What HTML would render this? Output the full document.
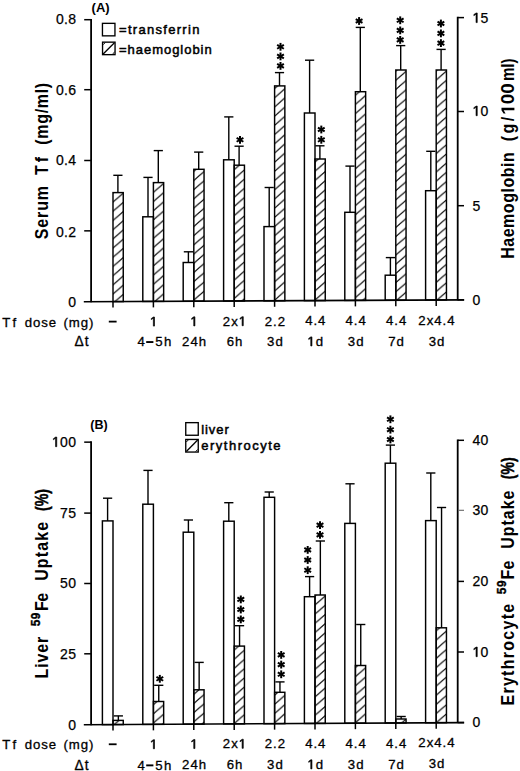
<!DOCTYPE html>
<html><head><meta charset="utf-8"><style>
html,body{margin:0;padding:0;background:#fff;}
svg{display:block;}
text{font-family:"Liberation Sans", sans-serif;fill:#000;white-space:pre;}
.tk{stroke:#000;stroke-width:0.25px;}
.tl{stroke:#000;stroke-width:0.3px;}
.tt{stroke:#000;stroke-width:0.3px;}
.lg{stroke:#000;stroke-width:0.5px;}
</style></head><body>
<svg width="520" height="771" viewBox="0 0 520 771">
<defs>
<pattern id="hA0" patternUnits="userSpaceOnUse" x="0" y="6.0" width="10.575" height="9.2"><g stroke="#000" stroke-width="1.2"><line x1="0" y1="9.2" x2="10.575" y2="0"/><line x1="-10.575" y1="9.2" x2="10.575" y2="-9.2"/><line x1="0" y1="18.4" x2="21.149" y2="0"/></g></pattern>
<pattern id="hA1" patternUnits="userSpaceOnUse" x="0" y="3.8" width="10.575" height="9.2"><g stroke="#000" stroke-width="1.2"><line x1="0" y1="9.2" x2="10.575" y2="0"/><line x1="-10.575" y1="9.2" x2="10.575" y2="-9.2"/><line x1="0" y1="18.4" x2="21.149" y2="0"/></g></pattern>
<pattern id="hA2" patternUnits="userSpaceOnUse" x="0" y="8.7" width="10.575" height="9.2"><g stroke="#000" stroke-width="1.2"><line x1="0" y1="9.2" x2="10.575" y2="0"/><line x1="-10.575" y1="9.2" x2="10.575" y2="-9.2"/><line x1="0" y1="18.4" x2="21.149" y2="0"/></g></pattern>
<pattern id="hA3" patternUnits="userSpaceOnUse" x="0" y="5.4" width="10.575" height="9.2"><g stroke="#000" stroke-width="1.2"><line x1="0" y1="9.2" x2="10.575" y2="0"/><line x1="-10.575" y1="9.2" x2="10.575" y2="-9.2"/><line x1="0" y1="18.4" x2="21.149" y2="0"/></g></pattern>
<pattern id="hA4" patternUnits="userSpaceOnUse" x="0" y="5.4" width="10.575" height="9.2"><g stroke="#000" stroke-width="1.2"><line x1="0" y1="9.2" x2="10.575" y2="0"/><line x1="-10.575" y1="9.2" x2="10.575" y2="-9.2"/><line x1="0" y1="18.4" x2="21.149" y2="0"/></g></pattern>
<pattern id="hA5" patternUnits="userSpaceOnUse" x="0" y="3.7" width="10.575" height="9.2"><g stroke="#000" stroke-width="1.2"><line x1="0" y1="9.2" x2="10.575" y2="0"/><line x1="-10.575" y1="9.2" x2="10.575" y2="-9.2"/><line x1="0" y1="18.4" x2="21.149" y2="0"/></g></pattern>
<pattern id="hA6" patternUnits="userSpaceOnUse" x="0" y="8.8" width="10.575" height="9.2"><g stroke="#000" stroke-width="1.2"><line x1="0" y1="9.2" x2="10.575" y2="0"/><line x1="-10.575" y1="9.2" x2="10.575" y2="-9.2"/><line x1="0" y1="18.4" x2="21.149" y2="0"/></g></pattern>
<pattern id="hA7" patternUnits="userSpaceOnUse" x="0" y="1.4" width="10.575" height="9.2"><g stroke="#000" stroke-width="1.2"><line x1="0" y1="9.2" x2="10.575" y2="0"/><line x1="-10.575" y1="9.2" x2="10.575" y2="-9.2"/><line x1="0" y1="18.4" x2="21.149" y2="0"/></g></pattern>
<pattern id="hA8" patternUnits="userSpaceOnUse" x="0" y="8.7" width="10.575" height="9.2"><g stroke="#000" stroke-width="1.2"><line x1="0" y1="9.2" x2="10.575" y2="0"/><line x1="-10.575" y1="9.2" x2="10.575" y2="-9.2"/><line x1="0" y1="18.4" x2="21.149" y2="0"/></g></pattern>
<pattern id="hB0" patternUnits="userSpaceOnUse" x="0" y="5.1" width="10.575" height="9.2"><g stroke="#000" stroke-width="1.2"><line x1="0" y1="9.2" x2="10.575" y2="0"/><line x1="-10.575" y1="9.2" x2="10.575" y2="-9.2"/><line x1="0" y1="18.4" x2="21.149" y2="0"/></g></pattern>
<pattern id="hB1" patternUnits="userSpaceOnUse" x="0" y="0.9" width="10.575" height="9.2"><g stroke="#000" stroke-width="1.2"><line x1="0" y1="9.2" x2="10.575" y2="0"/><line x1="-10.575" y1="9.2" x2="10.575" y2="-9.2"/><line x1="0" y1="18.4" x2="21.149" y2="0"/></g></pattern>
<pattern id="hB2" patternUnits="userSpaceOnUse" x="0" y="7.3" width="10.575" height="9.2"><g stroke="#000" stroke-width="1.2"><line x1="0" y1="9.2" x2="10.575" y2="0"/><line x1="-10.575" y1="9.2" x2="10.575" y2="-9.2"/><line x1="0" y1="18.4" x2="21.149" y2="0"/></g></pattern>
<pattern id="hB3" patternUnits="userSpaceOnUse" x="0" y="7.3" width="10.575" height="9.2"><g stroke="#000" stroke-width="1.2"><line x1="0" y1="9.2" x2="10.575" y2="0"/><line x1="-10.575" y1="9.2" x2="10.575" y2="-9.2"/><line x1="0" y1="18.4" x2="21.149" y2="0"/></g></pattern>
<pattern id="hB4" patternUnits="userSpaceOnUse" x="0" y="4.8" width="10.575" height="9.2"><g stroke="#000" stroke-width="1.2"><line x1="0" y1="9.2" x2="10.575" y2="0"/><line x1="-10.575" y1="9.2" x2="10.575" y2="-9.2"/><line x1="0" y1="18.4" x2="21.149" y2="0"/></g></pattern>
<pattern id="hB5" patternUnits="userSpaceOnUse" x="0" y="5.0" width="10.575" height="9.2"><g stroke="#000" stroke-width="1.2"><line x1="0" y1="9.2" x2="10.575" y2="0"/><line x1="-10.575" y1="9.2" x2="10.575" y2="-9.2"/><line x1="0" y1="18.4" x2="21.149" y2="0"/></g></pattern>
<pattern id="hB6" patternUnits="userSpaceOnUse" x="0" y="1.5" width="10.575" height="9.2"><g stroke="#000" stroke-width="1.2"><line x1="0" y1="9.2" x2="10.575" y2="0"/><line x1="-10.575" y1="9.2" x2="10.575" y2="-9.2"/><line x1="0" y1="18.4" x2="21.149" y2="0"/></g></pattern>
<pattern id="hB7" patternUnits="userSpaceOnUse" x="0" y="5.1" width="10.575" height="9.2"><g stroke="#000" stroke-width="1.2"><line x1="0" y1="9.2" x2="10.575" y2="0"/><line x1="-10.575" y1="9.2" x2="10.575" y2="-9.2"/><line x1="0" y1="18.4" x2="21.149" y2="0"/></g></pattern>
<pattern id="hB8" patternUnits="userSpaceOnUse" x="0" y="7.5" width="10.575" height="9.2"><g stroke="#000" stroke-width="1.2"><line x1="0" y1="9.2" x2="10.575" y2="0"/><line x1="-10.575" y1="9.2" x2="10.575" y2="-9.2"/><line x1="0" y1="18.4" x2="21.149" y2="0"/></g></pattern>

</defs>
<rect width="520" height="771" fill="#fff"/>

<rect x="113.0" y="192.6" width="10.25" height="108.97999999999999" fill="url(#hA0)" stroke="none"/><rect x="113.00" y="192.60" width="10.25" height="108.98" fill="none" stroke="#000" stroke-width="1.45"/><line x1="117.90" y1="175.30" x2="117.90" y2="192.60" stroke="#000" stroke-width="1.4"/><line x1="113.30" y1="175.30" x2="122.50" y2="175.30" stroke="#000" stroke-width="1.4"/><rect x="142.80" y="216.80" width="10.60" height="84.63" fill="none" stroke="#000" stroke-width="1.45"/><line x1="148.00" y1="177.40" x2="148.00" y2="216.80" stroke="#000" stroke-width="1.4"/><line x1="143.40" y1="177.40" x2="152.60" y2="177.40" stroke="#000" stroke-width="1.4"/><rect x="153.4" y="182.6" width="10.25" height="118.77799999999999" fill="url(#hA1)" stroke="none"/><rect x="153.40" y="182.60" width="10.25" height="118.78" fill="none" stroke="#000" stroke-width="1.45"/><line x1="158.30" y1="150.60" x2="158.30" y2="182.60" stroke="#000" stroke-width="1.4"/><line x1="153.70" y1="150.60" x2="162.90" y2="150.60" stroke="#000" stroke-width="1.4"/><rect x="183.20" y="262.50" width="10.60" height="38.73" fill="none" stroke="#000" stroke-width="1.45"/><line x1="188.40" y1="251.80" x2="188.40" y2="262.50" stroke="#000" stroke-width="1.4"/><line x1="183.80" y1="251.80" x2="193.00" y2="251.80" stroke="#000" stroke-width="1.4"/><rect x="193.8" y="169.3" width="10.25" height="131.87599999999998" fill="url(#hA2)" stroke="none"/><rect x="193.80" y="169.30" width="10.25" height="131.88" fill="none" stroke="#000" stroke-width="1.45"/><line x1="198.70" y1="152.10" x2="198.70" y2="169.30" stroke="#000" stroke-width="1.4"/><line x1="194.10" y1="152.10" x2="203.30" y2="152.10" stroke="#000" stroke-width="1.4"/><rect x="223.60" y="159.80" width="10.60" height="141.22" fill="none" stroke="#000" stroke-width="1.45"/><line x1="228.80" y1="116.90" x2="228.80" y2="159.80" stroke="#000" stroke-width="1.4"/><line x1="224.20" y1="116.90" x2="233.40" y2="116.90" stroke="#000" stroke-width="1.4"/><rect x="234.2" y="165.2" width="10.25" height="135.774" fill="url(#hA3)" stroke="none"/><rect x="234.20" y="165.20" width="10.25" height="135.77" fill="none" stroke="#000" stroke-width="1.45"/><line x1="239.10" y1="146.20" x2="239.10" y2="165.20" stroke="#000" stroke-width="1.4"/><line x1="234.50" y1="146.20" x2="243.70" y2="146.20" stroke="#000" stroke-width="1.4"/><rect x="264.00" y="226.60" width="10.60" height="74.22" fill="none" stroke="#000" stroke-width="1.45"/><line x1="269.20" y1="187.50" x2="269.20" y2="226.60" stroke="#000" stroke-width="1.4"/><line x1="264.60" y1="187.50" x2="273.80" y2="187.50" stroke="#000" stroke-width="1.4"/><rect x="274.6" y="85.9" width="10.25" height="214.87199999999999" fill="url(#hA4)" stroke="none"/><rect x="274.60" y="85.90" width="10.25" height="214.87" fill="none" stroke="#000" stroke-width="1.45"/><line x1="279.50" y1="72.60" x2="279.50" y2="85.90" stroke="#000" stroke-width="1.4"/><line x1="274.90" y1="72.60" x2="284.10" y2="72.60" stroke="#000" stroke-width="1.4"/><rect x="304.40" y="113.00" width="10.60" height="187.62" fill="none" stroke="#000" stroke-width="1.45"/><line x1="309.60" y1="60.20" x2="309.60" y2="113.00" stroke="#000" stroke-width="1.4"/><line x1="305.00" y1="60.20" x2="314.20" y2="60.20" stroke="#000" stroke-width="1.4"/><rect x="315.0" y="159.0" width="10.25" height="141.57" fill="url(#hA5)" stroke="none"/><rect x="315.00" y="159.00" width="10.25" height="141.57" fill="none" stroke="#000" stroke-width="1.45"/><line x1="319.90" y1="145.80" x2="319.90" y2="159.00" stroke="#000" stroke-width="1.4"/><line x1="315.30" y1="145.80" x2="324.50" y2="145.80" stroke="#000" stroke-width="1.4"/><rect x="344.80" y="212.30" width="10.60" height="88.12" fill="none" stroke="#000" stroke-width="1.45"/><line x1="350.00" y1="166.10" x2="350.00" y2="212.30" stroke="#000" stroke-width="1.4"/><line x1="345.40" y1="166.10" x2="354.60" y2="166.10" stroke="#000" stroke-width="1.4"/><rect x="355.4" y="91.7" width="10.25" height="208.668" fill="url(#hA6)" stroke="none"/><rect x="355.40" y="91.70" width="10.25" height="208.67" fill="none" stroke="#000" stroke-width="1.45"/><line x1="360.30" y1="27.40" x2="360.30" y2="91.70" stroke="#000" stroke-width="1.4"/><line x1="355.70" y1="27.40" x2="364.90" y2="27.40" stroke="#000" stroke-width="1.4"/><rect x="385.20" y="275.20" width="10.60" height="25.02" fill="none" stroke="#000" stroke-width="1.45"/><line x1="390.40" y1="257.60" x2="390.40" y2="275.20" stroke="#000" stroke-width="1.4"/><line x1="385.80" y1="257.60" x2="395.00" y2="257.60" stroke="#000" stroke-width="1.4"/><rect x="395.8" y="70.0" width="10.25" height="230.166" fill="url(#hA7)" stroke="none"/><rect x="395.80" y="70.00" width="10.25" height="230.17" fill="none" stroke="#000" stroke-width="1.45"/><line x1="400.70" y1="45.60" x2="400.70" y2="70.00" stroke="#000" stroke-width="1.4"/><line x1="396.10" y1="45.60" x2="405.30" y2="45.60" stroke="#000" stroke-width="1.4"/><rect x="425.60" y="190.70" width="10.60" height="109.31" fill="none" stroke="#000" stroke-width="1.45"/><line x1="430.80" y1="151.30" x2="430.80" y2="190.70" stroke="#000" stroke-width="1.4"/><line x1="426.20" y1="151.30" x2="435.40" y2="151.30" stroke="#000" stroke-width="1.4"/><rect x="436.2" y="70.0" width="10.25" height="229.964" fill="url(#hA8)" stroke="none"/><rect x="436.20" y="70.00" width="10.25" height="229.96" fill="none" stroke="#000" stroke-width="1.45"/><line x1="441.10" y1="49.40" x2="441.10" y2="70.00" stroke="#000" stroke-width="1.4"/><line x1="436.50" y1="49.40" x2="445.70" y2="49.40" stroke="#000" stroke-width="1.4"/><g stroke="#000" stroke-width="2.0" stroke-linecap="butt"><line x1="240.00" y1="135.90" x2="240.00" y2="143.70"/><line x1="236.62" y1="137.85" x2="243.38" y2="141.75"/><line x1="236.62" y1="141.75" x2="243.38" y2="137.85"/><line x1="280.50" y1="42.90" x2="280.50" y2="50.70"/><line x1="277.12" y1="44.85" x2="283.88" y2="48.75"/><line x1="277.12" y1="48.75" x2="283.88" y2="44.85"/><line x1="280.50" y1="52.50" x2="280.50" y2="60.30"/><line x1="277.12" y1="54.45" x2="283.88" y2="58.35"/><line x1="277.12" y1="58.35" x2="283.88" y2="54.45"/><line x1="280.50" y1="62.00" x2="280.50" y2="69.80"/><line x1="277.12" y1="63.95" x2="283.88" y2="67.85"/><line x1="277.12" y1="67.85" x2="283.88" y2="63.95"/><line x1="321.30" y1="125.60" x2="321.30" y2="133.40"/><line x1="317.92" y1="127.55" x2="324.68" y2="131.45"/><line x1="317.92" y1="131.45" x2="324.68" y2="127.55"/><line x1="321.30" y1="135.90" x2="321.30" y2="143.70"/><line x1="317.92" y1="137.85" x2="324.68" y2="141.75"/><line x1="317.92" y1="141.75" x2="324.68" y2="137.85"/><line x1="359.10" y1="17.10" x2="359.10" y2="24.90"/><line x1="355.72" y1="19.05" x2="362.48" y2="22.95"/><line x1="355.72" y1="22.95" x2="362.48" y2="19.05"/><line x1="400.20" y1="16.40" x2="400.20" y2="24.20"/><line x1="396.82" y1="18.35" x2="403.58" y2="22.25"/><line x1="396.82" y1="22.25" x2="403.58" y2="18.35"/><line x1="400.20" y1="26.50" x2="400.20" y2="34.30"/><line x1="396.82" y1="28.45" x2="403.58" y2="32.35"/><line x1="396.82" y1="32.35" x2="403.58" y2="28.45"/><line x1="400.20" y1="36.00" x2="400.20" y2="43.80"/><line x1="396.82" y1="37.95" x2="403.58" y2="41.85"/><line x1="396.82" y1="41.85" x2="403.58" y2="37.95"/><line x1="440.90" y1="19.60" x2="440.90" y2="27.40"/><line x1="437.52" y1="21.55" x2="444.28" y2="25.45"/><line x1="437.52" y1="25.45" x2="444.28" y2="21.55"/><line x1="440.90" y1="29.50" x2="440.90" y2="37.30"/><line x1="437.52" y1="31.45" x2="444.28" y2="35.35"/><line x1="437.52" y1="35.35" x2="444.28" y2="31.45"/><line x1="440.90" y1="39.20" x2="440.90" y2="47.00"/><line x1="437.52" y1="41.15" x2="444.28" y2="45.05"/><line x1="437.52" y1="45.05" x2="444.28" y2="41.15"/></g><g stroke="#000" stroke-width="1.5" fill="none"><line x1="83.8" y1="301.75" x2="464.2" y2="299.85" stroke-width="1.7"/><line x1="91.1" y1="18.90" x2="91.1" y2="302.25" stroke-width="1.8"/><line x1="457.7" y1="16.80" x2="457.7" y2="300.35" stroke-width="1.8"/><line x1="84.2" y1="19.70" x2="91.1" y2="19.70"/><line x1="84.2" y1="89.70" x2="91.1" y2="89.70"/><line x1="84.2" y1="160.50" x2="91.1" y2="160.50"/><line x1="84.2" y1="230.85" x2="91.1" y2="230.85"/><line x1="457.7" y1="17.60" x2="464" y2="17.60"/><line x1="457.7" y1="111.50" x2="464" y2="111.50"/><line x1="457.7" y1="205.70" x2="464" y2="205.70"/><line x1="457.7" y1="299.85" x2="464" y2="299.85"/><line x1="113.00" y1="301.61" x2="113.00" y2="307.61"/><line x1="153.40" y1="301.40" x2="153.40" y2="307.40"/><line x1="193.80" y1="301.20" x2="193.80" y2="307.20"/><line x1="234.20" y1="301.00" x2="234.20" y2="307.00"/><line x1="274.60" y1="300.80" x2="274.60" y2="306.80"/><line x1="315.00" y1="300.60" x2="315.00" y2="306.60"/><line x1="355.40" y1="300.39" x2="355.40" y2="306.39"/><line x1="395.80" y1="300.19" x2="395.80" y2="306.19"/><line x1="436.20" y1="299.99" x2="436.20" y2="305.99"/></g>
<rect x="102.40" y="520.90" width="10.60" height="203.71" fill="none" stroke="#000" stroke-width="1.45"/><line x1="107.60" y1="498.20" x2="107.60" y2="520.90" stroke="#000" stroke-width="1.4"/><line x1="103.00" y1="498.20" x2="112.20" y2="498.20" stroke="#000" stroke-width="1.4"/><rect x="113.0" y="720.4" width="10.25" height="4.153157894736864" fill="url(#hB0)" stroke="none"/><rect x="113.00" y="720.40" width="10.25" height="4.15" fill="none" stroke="#000" stroke-width="1.45"/><line x1="118.35" y1="715.90" x2="118.35" y2="720.40" stroke="#000" stroke-width="1.4"/><line x1="113.75" y1="715.90" x2="122.95" y2="715.90" stroke="#000" stroke-width="1.4"/><rect x="142.80" y="504.20" width="10.60" height="220.18" fill="none" stroke="#000" stroke-width="1.45"/><line x1="148.00" y1="470.40" x2="148.00" y2="504.20" stroke="#000" stroke-width="1.4"/><line x1="143.40" y1="470.40" x2="152.60" y2="470.40" stroke="#000" stroke-width="1.4"/><rect x="153.4" y="701.5" width="10.25" height="22.81926315789474" fill="url(#hB1)" stroke="none"/><rect x="153.40" y="701.50" width="10.25" height="22.82" fill="none" stroke="#000" stroke-width="1.45"/><line x1="158.75" y1="685.30" x2="158.75" y2="701.50" stroke="#000" stroke-width="1.4"/><line x1="154.15" y1="685.30" x2="163.35" y2="685.30" stroke="#000" stroke-width="1.4"/><rect x="183.20" y="532.20" width="10.60" height="191.94" fill="none" stroke="#000" stroke-width="1.45"/><line x1="188.40" y1="520.00" x2="188.40" y2="532.20" stroke="#000" stroke-width="1.4"/><line x1="183.80" y1="520.00" x2="193.00" y2="520.00" stroke="#000" stroke-width="1.4"/><rect x="193.8" y="689.8" width="10.25" height="34.28536842105268" fill="url(#hB2)" stroke="none"/><rect x="193.80" y="689.80" width="10.25" height="34.29" fill="none" stroke="#000" stroke-width="1.45"/><line x1="199.15" y1="662.40" x2="199.15" y2="689.80" stroke="#000" stroke-width="1.4"/><line x1="194.55" y1="662.40" x2="203.75" y2="662.40" stroke="#000" stroke-width="1.4"/><rect x="223.60" y="521.20" width="10.60" height="202.71" fill="none" stroke="#000" stroke-width="1.45"/><line x1="228.80" y1="502.70" x2="228.80" y2="521.20" stroke="#000" stroke-width="1.4"/><line x1="224.20" y1="502.70" x2="233.40" y2="502.70" stroke="#000" stroke-width="1.4"/><rect x="234.2" y="646.1" width="10.25" height="77.75147368421051" fill="url(#hB3)" stroke="none"/><rect x="234.20" y="646.10" width="10.25" height="77.75" fill="none" stroke="#000" stroke-width="1.45"/><line x1="239.55" y1="625.70" x2="239.55" y2="646.10" stroke="#000" stroke-width="1.4"/><line x1="234.95" y1="625.70" x2="244.15" y2="625.70" stroke="#000" stroke-width="1.4"/><rect x="264.00" y="497.30" width="10.60" height="226.38" fill="none" stroke="#000" stroke-width="1.45"/><line x1="269.20" y1="492.00" x2="269.20" y2="497.30" stroke="#000" stroke-width="1.4"/><line x1="264.60" y1="492.00" x2="273.80" y2="492.00" stroke="#000" stroke-width="1.4"/><rect x="274.6" y="692.3" width="10.25" height="31.317578947368474" fill="url(#hB4)" stroke="none"/><rect x="274.60" y="692.30" width="10.25" height="31.32" fill="none" stroke="#000" stroke-width="1.45"/><line x1="279.95" y1="681.90" x2="279.95" y2="692.30" stroke="#000" stroke-width="1.4"/><line x1="275.35" y1="681.90" x2="284.55" y2="681.90" stroke="#000" stroke-width="1.4"/><rect x="304.40" y="596.70" width="10.60" height="126.74" fill="none" stroke="#000" stroke-width="1.45"/><line x1="309.60" y1="576.60" x2="309.60" y2="596.70" stroke="#000" stroke-width="1.4"/><line x1="305.00" y1="576.60" x2="314.20" y2="576.60" stroke="#000" stroke-width="1.4"/><rect x="315.0" y="595.0" width="10.25" height="128.38368421052633" fill="url(#hB5)" stroke="none"/><rect x="315.00" y="595.00" width="10.25" height="128.38" fill="none" stroke="#000" stroke-width="1.45"/><line x1="320.35" y1="541.00" x2="320.35" y2="595.00" stroke="#000" stroke-width="1.4"/><line x1="315.75" y1="541.00" x2="324.95" y2="541.00" stroke="#000" stroke-width="1.4"/><rect x="344.80" y="523.40" width="10.60" height="199.81" fill="none" stroke="#000" stroke-width="1.45"/><line x1="350.00" y1="483.80" x2="350.00" y2="523.40" stroke="#000" stroke-width="1.4"/><line x1="345.40" y1="483.80" x2="354.60" y2="483.80" stroke="#000" stroke-width="1.4"/><rect x="355.4" y="665.5" width="10.25" height="57.64978947368422" fill="url(#hB6)" stroke="none"/><rect x="355.40" y="665.50" width="10.25" height="57.65" fill="none" stroke="#000" stroke-width="1.45"/><line x1="360.75" y1="624.50" x2="360.75" y2="665.50" stroke="#000" stroke-width="1.4"/><line x1="356.15" y1="624.50" x2="365.35" y2="624.50" stroke="#000" stroke-width="1.4"/><rect x="385.20" y="463.20" width="10.60" height="259.77" fill="none" stroke="#000" stroke-width="1.45"/><line x1="390.40" y1="445.10" x2="390.40" y2="463.20" stroke="#000" stroke-width="1.4"/><line x1="385.80" y1="445.10" x2="395.00" y2="445.10" stroke="#000" stroke-width="1.4"/><rect x="395.8" y="719.0" width="10.25" height="3.9158947368421195" fill="url(#hB7)" stroke="none"/><rect x="395.80" y="719.00" width="10.25" height="3.92" fill="none" stroke="#000" stroke-width="1.45"/><line x1="401.15" y1="716.50" x2="401.15" y2="719.00" stroke="#000" stroke-width="1.4"/><line x1="396.55" y1="716.50" x2="405.75" y2="716.50" stroke="#000" stroke-width="1.4"/><rect x="425.60" y="520.60" width="10.60" height="202.14" fill="none" stroke="#000" stroke-width="1.45"/><line x1="430.80" y1="473.00" x2="430.80" y2="520.60" stroke="#000" stroke-width="1.4"/><line x1="426.20" y1="473.00" x2="435.40" y2="473.00" stroke="#000" stroke-width="1.4"/><rect x="436.2" y="627.8" width="10.25" height="94.88199999999995" fill="url(#hB8)" stroke="none"/><rect x="436.20" y="627.80" width="10.25" height="94.88" fill="none" stroke="#000" stroke-width="1.45"/><line x1="441.55" y1="507.50" x2="441.55" y2="627.80" stroke="#000" stroke-width="1.4"/><line x1="436.95" y1="507.50" x2="446.15" y2="507.50" stroke="#000" stroke-width="1.4"/><g stroke="#000" stroke-width="2.0" stroke-linecap="butt"><line x1="159.80" y1="674.90" x2="159.80" y2="682.70"/><line x1="156.42" y1="676.85" x2="163.18" y2="680.75"/><line x1="156.42" y1="680.75" x2="163.18" y2="676.85"/><line x1="240.80" y1="595.50" x2="240.80" y2="603.30"/><line x1="237.42" y1="597.45" x2="244.18" y2="601.35"/><line x1="237.42" y1="601.35" x2="244.18" y2="597.45"/><line x1="240.80" y1="605.60" x2="240.80" y2="613.40"/><line x1="237.42" y1="607.55" x2="244.18" y2="611.45"/><line x1="237.42" y1="611.45" x2="244.18" y2="607.55"/><line x1="240.80" y1="615.50" x2="240.80" y2="623.30"/><line x1="237.42" y1="617.45" x2="244.18" y2="621.35"/><line x1="237.42" y1="621.35" x2="244.18" y2="617.45"/><line x1="281.20" y1="651.00" x2="281.20" y2="658.80"/><line x1="277.82" y1="652.95" x2="284.58" y2="656.85"/><line x1="277.82" y1="656.85" x2="284.58" y2="652.95"/><line x1="281.20" y1="660.70" x2="281.20" y2="668.50"/><line x1="277.82" y1="662.65" x2="284.58" y2="666.55"/><line x1="277.82" y1="666.55" x2="284.58" y2="662.65"/><line x1="281.20" y1="670.40" x2="281.20" y2="678.20"/><line x1="277.82" y1="672.35" x2="284.58" y2="676.25"/><line x1="277.82" y1="676.25" x2="284.58" y2="672.35"/><line x1="307.70" y1="546.00" x2="307.70" y2="553.80"/><line x1="304.32" y1="547.95" x2="311.08" y2="551.85"/><line x1="304.32" y1="551.85" x2="311.08" y2="547.95"/><line x1="307.70" y1="556.10" x2="307.70" y2="563.90"/><line x1="304.32" y1="558.05" x2="311.08" y2="561.95"/><line x1="304.32" y1="561.95" x2="311.08" y2="558.05"/><line x1="307.70" y1="566.30" x2="307.70" y2="574.10"/><line x1="304.32" y1="568.25" x2="311.08" y2="572.15"/><line x1="304.32" y1="572.15" x2="311.08" y2="568.25"/><line x1="320.00" y1="521.20" x2="320.00" y2="529.00"/><line x1="316.62" y1="523.15" x2="323.38" y2="527.05"/><line x1="316.62" y1="527.05" x2="323.38" y2="523.15"/><line x1="320.00" y1="531.00" x2="320.00" y2="538.80"/><line x1="316.62" y1="532.95" x2="323.38" y2="536.85"/><line x1="316.62" y1="536.85" x2="323.38" y2="532.95"/><line x1="390.40" y1="415.40" x2="390.40" y2="423.20"/><line x1="387.02" y1="417.35" x2="393.78" y2="421.25"/><line x1="387.02" y1="421.25" x2="393.78" y2="417.35"/><line x1="390.40" y1="425.80" x2="390.40" y2="433.60"/><line x1="387.02" y1="427.75" x2="393.78" y2="431.65"/><line x1="387.02" y1="431.65" x2="393.78" y2="427.75"/><line x1="390.40" y1="435.60" x2="390.40" y2="443.40"/><line x1="387.02" y1="437.55" x2="393.78" y2="441.45"/><line x1="387.02" y1="441.45" x2="393.78" y2="437.55"/></g><g stroke="#000" stroke-width="1.5" fill="none"><line x1="83.8" y1="724.75" x2="464.2" y2="722.55" stroke-width="1.7"/><line x1="91.1" y1="441.35" x2="91.1" y2="725.25" stroke-width="1.8"/><line x1="457.7" y1="439.50" x2="457.7" y2="723.05" stroke-width="1.8"/><line x1="84.2" y1="442.15" x2="91.1" y2="442.15"/><line x1="84.2" y1="513.10" x2="91.1" y2="513.10"/><line x1="84.2" y1="583.50" x2="91.1" y2="583.50"/><line x1="84.2" y1="653.80" x2="91.1" y2="653.80"/><line x1="457.7" y1="440.30" x2="464" y2="440.30"/><line x1="458.5" y1="510.30" x2="464" y2="510.30" stroke="#666" stroke-width="1.1"/><line x1="457.7" y1="581.40" x2="464" y2="581.40"/><line x1="457.7" y1="652.00" x2="464" y2="652.00"/><line x1="457.7" y1="722.55" x2="464" y2="722.55"/><line x1="113.00" y1="724.58" x2="113.00" y2="730.58"/><line x1="153.40" y1="724.35" x2="153.40" y2="730.35"/><line x1="193.80" y1="724.11" x2="193.80" y2="730.11"/><line x1="234.20" y1="723.88" x2="234.20" y2="729.88"/><line x1="274.60" y1="723.65" x2="274.60" y2="729.65"/><line x1="315.00" y1="723.41" x2="315.00" y2="729.41"/><line x1="355.40" y1="723.18" x2="355.40" y2="729.18"/><line x1="395.80" y1="722.94" x2="395.80" y2="728.94"/><line x1="436.20" y1="722.71" x2="436.20" y2="728.71"/></g>
<text x="76.3" y="24.299999999999997" font-size="14" text-anchor="end" letter-spacing="0.3" font-weight="normal" class="tk">0.8</text>
<text x="76.3" y="94.55000000000001" font-size="14" text-anchor="end" letter-spacing="0.3" font-weight="normal" class="tk">0.6</text>
<text x="76.3" y="164.8" font-size="14" text-anchor="end" letter-spacing="0.3" font-weight="normal" class="tk">0.4</text>
<text x="76.3" y="236.55" font-size="14" text-anchor="end" letter-spacing="0.3" font-weight="normal" class="tk">0.2</text>
<text x="76.3" y="306.54999999999995" font-size="14" text-anchor="end" letter-spacing="0.3" font-weight="normal" class="tk">0</text>
<text id="one0" x="472.5" y="22.6" font-size="14" text-anchor="start" letter-spacing="0.3" font-weight="normal" class="tk"><tspan style="fill:none;stroke:none">1</tspan>5</text>
<text id="one1" x="472.5" y="115.7" font-size="14" text-anchor="start" letter-spacing="0.3" font-weight="normal" class="tk"><tspan style="fill:none;stroke:none">1</tspan>0</text>
<text x="472.5" y="210.5" font-size="14" text-anchor="start" letter-spacing="0.3" font-weight="normal" class="tk">5</text>
<text x="472.5" y="304.75" font-size="14" text-anchor="start" letter-spacing="0.3" font-weight="normal" class="tk">0</text>
<text id="one2" x="76.3" y="446.7" font-size="14" text-anchor="end" letter-spacing="0.3" font-weight="normal" class="tk"><tspan style="fill:none;stroke:none">1</tspan>00</text>
<text x="76.3" y="518.0" font-size="14" text-anchor="end" letter-spacing="0.3" font-weight="normal" class="tk">75</text>
<text x="76.3" y="588.4" font-size="14" text-anchor="end" letter-spacing="0.3" font-weight="normal" class="tk">50</text>
<text x="76.3" y="658.75" font-size="14" text-anchor="end" letter-spacing="0.3" font-weight="normal" class="tk">25</text>
<text x="76.3" y="729.85" font-size="14" text-anchor="end" letter-spacing="0.3" font-weight="normal" class="tk">0</text>
<text x="472.5" y="445.2" font-size="14" text-anchor="start" letter-spacing="0.3" font-weight="normal" class="tk">40</text>
<text x="472.5" y="515.25" font-size="14" text-anchor="start" letter-spacing="0.3" font-weight="normal" class="tk">30</text>
<text x="472.5" y="586.1" font-size="14" text-anchor="start" letter-spacing="0.3" font-weight="normal" class="tk">20</text>
<text id="one3" x="472.5" y="656.6999999999999" font-size="14" text-anchor="start" letter-spacing="0.3" font-weight="normal" class="tk"><tspan style="fill:none;stroke:none">1</tspan>0</text>
<text x="472.5" y="727.3" font-size="14" text-anchor="start" letter-spacing="0.3" font-weight="normal" class="tk">0</text>
<text x="91.6" y="12.2" font-size="13" text-anchor="start" letter-spacing="0" font-weight="bold" >(A)</text>
<text x="90.3" y="429.1" font-size="12.5" text-anchor="start" letter-spacing="0" font-weight="bold" >(B)</text>
<rect x="102.45" y="23.35" width="12.5" height="12.5" fill="none" stroke="#000" stroke-width="1.35"/>
<line x1="103.14999999999999" y1="54.05" x2="114.45" y2="42.75" stroke="#000" stroke-width="1.3"/><line x1="103.05" y1="44.75" x2="105.14999999999999" y2="42.65" stroke="#000" stroke-width="1.0"/><line x1="112.45" y1="54.15" x2="114.55" y2="52.05" stroke="#000" stroke-width="1.0"/><rect x="102.55" y="42.15" width="12.5" height="12.5" fill="none" stroke="#000" stroke-width="1.35"/>
<rect x="185.75" y="422.65" width="12.5" height="12.6" fill="none" stroke="#000" stroke-width="1.35"/>
<line x1="186.35" y1="451.45" x2="197.65" y2="440.05" stroke="#000" stroke-width="1.3"/><line x1="186.25" y1="442.05" x2="188.35" y2="439.95" stroke="#000" stroke-width="1.0"/><line x1="195.65" y1="451.55" x2="197.75" y2="449.45" stroke="#000" stroke-width="1.0"/><rect x="185.75" y="439.45" width="12.5" height="12.6" fill="none" stroke="#000" stroke-width="1.35"/>
<text x="119.0" y="34.3" font-size="13.0" text-anchor="start" letter-spacing="1.3" font-weight="normal" class="lg">=transferrin</text>
<text x="119.0" y="53.5" font-size="13.0" text-anchor="start" letter-spacing="0.97" font-weight="normal" class="lg">=haemoglobin</text>
<text x="201.3" y="434.1" font-size="13.0" text-anchor="start" letter-spacing="0.9" font-weight="normal" class="lg">liver</text>
<text x="201.3" y="450.3" font-size="13.0" text-anchor="start" letter-spacing="1.5" font-weight="normal" class="lg">erythrocyte</text>
<text y="326.60" font-size="13.2" font-weight="normal" class="tt" letter-spacing="0.9"><tspan x="2.2" letter-spacing="2.2">Tf</tspan><tspan x="24.8">dose</tspan><tspan x="63.5">(mg)</tspan></text>
<text x="74.6" y="346.30" font-size="13.8" font-weight="normal" class="tt" letter-spacing="1">Δt</text>
<rect x="108.8" y="320.71" width="7.8" height="1.8" fill="#000"/>
<text id="one4" x="154.2" y="326.12" font-size="13.2" text-anchor="middle" letter-spacing="1.0" font-weight="normal" class="tl"><tspan style="fill:none;stroke:none">1</tspan></text>
<text x="137.6" y="346.20" font-size="13.2" text-anchor="start" letter-spacing="0" font-weight="normal" class="tl">4</text>
<rect x="146.2" y="341.10" width="7.2" height="1.9" fill="#000"/>
<text x="155.3" y="346.20" font-size="13.2" text-anchor="start" letter-spacing="1.3" font-weight="normal" class="tl">5h</text>
<text id="one5" x="194.6" y="325.93" font-size="13.2" text-anchor="middle" letter-spacing="1.0" font-weight="normal" class="tl"><tspan style="fill:none;stroke:none">1</tspan></text>
<text x="194.6" y="346.14" font-size="13.2" text-anchor="middle" letter-spacing="1.0" font-weight="normal" class="tl">24h</text>
<text id="one6" x="235.0" y="325.74" font-size="13.2" text-anchor="middle" letter-spacing="1.0" font-weight="normal" class="tl">2x<tspan style="fill:none;stroke:none">1</tspan></text>
<text x="235.0" y="346.08" font-size="13.2" text-anchor="middle" letter-spacing="1.0" font-weight="normal" class="tl">6h</text>
<text x="275.4" y="325.55" font-size="13.2" text-anchor="middle" letter-spacing="1.0" font-weight="normal" class="tl">2.2</text>
<text x="275.4" y="346.03" font-size="13.2" text-anchor="middle" letter-spacing="1.0" font-weight="normal" class="tl">3d</text>
<text x="315.8" y="325.36" font-size="13.2" text-anchor="middle" letter-spacing="1.0" font-weight="normal" class="tl">4.4</text>
<text id="one7" x="315.8" y="345.97" font-size="13.2" text-anchor="middle" letter-spacing="1.0" font-weight="normal" class="tl"><tspan style="fill:none;stroke:none">1</tspan>d</text>
<text x="356.2" y="325.17" font-size="13.2" text-anchor="middle" letter-spacing="1.0" font-weight="normal" class="tl">4.4</text>
<text x="356.2" y="345.91" font-size="13.2" text-anchor="middle" letter-spacing="1.0" font-weight="normal" class="tl">3d</text>
<text x="396.6" y="324.98" font-size="13.2" text-anchor="middle" letter-spacing="1.0" font-weight="normal" class="tl">4.4</text>
<text x="396.6" y="345.86" font-size="13.2" text-anchor="middle" letter-spacing="1.0" font-weight="normal" class="tl">7d</text>
<text x="437.0" y="324.79" font-size="13.2" text-anchor="middle" letter-spacing="1.0" font-weight="normal" class="tl">2x4.4</text>
<text x="437.0" y="345.80" font-size="13.2" text-anchor="middle" letter-spacing="1.0" font-weight="normal" class="tl">3d</text>
<text y="749.30" font-size="13.2" font-weight="normal" class="tt" letter-spacing="0.9"><tspan x="2.2" letter-spacing="2.2">Tf</tspan><tspan x="24.8">dose</tspan><tspan x="63.5">(mg)</tspan></text>
<text x="74.6" y="769.80" font-size="13.8" font-weight="normal" class="tt" letter-spacing="1">Δt</text>
<rect x="108.8" y="743.37" width="7.8" height="1.8" fill="#000"/>
<text id="one8" x="154.2" y="748.76" font-size="13.2" text-anchor="middle" letter-spacing="1.0" font-weight="normal" class="tl"><tspan style="fill:none;stroke:none">1</tspan></text>
<text x="137.6" y="769.52" font-size="13.2" text-anchor="start" letter-spacing="0" font-weight="normal" class="tl">4</text>
<rect x="146.2" y="764.42" width="7.2" height="1.9" fill="#000"/>
<text x="155.3" y="769.52" font-size="13.2" text-anchor="start" letter-spacing="1.3" font-weight="normal" class="tl">5h</text>
<text id="one9" x="194.6" y="748.55" font-size="13.2" text-anchor="middle" letter-spacing="1.0" font-weight="normal" class="tl"><tspan style="fill:none;stroke:none">1</tspan></text>
<text x="194.6" y="769.36" font-size="13.2" text-anchor="middle" letter-spacing="1.0" font-weight="normal" class="tl">24h</text>
<text id="one10" x="235.0" y="748.34" font-size="13.2" text-anchor="middle" letter-spacing="1.0" font-weight="normal" class="tl">2x<tspan style="fill:none;stroke:none">1</tspan></text>
<text x="235.0" y="769.20" font-size="13.2" text-anchor="middle" letter-spacing="1.0" font-weight="normal" class="tl">6h</text>
<text x="275.4" y="748.13" font-size="13.2" text-anchor="middle" letter-spacing="1.0" font-weight="normal" class="tl">2.2</text>
<text x="275.4" y="769.04" font-size="13.2" text-anchor="middle" letter-spacing="1.0" font-weight="normal" class="tl">3d</text>
<text x="315.8" y="747.92" font-size="13.2" text-anchor="middle" letter-spacing="1.0" font-weight="normal" class="tl">4.4</text>
<text id="one11" x="315.8" y="768.88" font-size="13.2" text-anchor="middle" letter-spacing="1.0" font-weight="normal" class="tl"><tspan style="fill:none;stroke:none">1</tspan>d</text>
<text x="356.2" y="747.71" font-size="13.2" text-anchor="middle" letter-spacing="1.0" font-weight="normal" class="tl">4.4</text>
<text x="356.2" y="768.72" font-size="13.2" text-anchor="middle" letter-spacing="1.0" font-weight="normal" class="tl">3d</text>
<text x="396.6" y="747.50" font-size="13.2" text-anchor="middle" letter-spacing="1.0" font-weight="normal" class="tl">4.4</text>
<text x="396.6" y="768.55" font-size="13.2" text-anchor="middle" letter-spacing="1.0" font-weight="normal" class="tl">7d</text>
<text x="437.0" y="747.29" font-size="13.2" text-anchor="middle" letter-spacing="1.0" font-weight="normal" class="tl">2x4.4</text>
<text x="437.0" y="768.39" font-size="13.2" text-anchor="middle" letter-spacing="1.0" font-weight="normal" class="tl">3d</text>
<text transform="translate(47.7,239.30) rotate(-90) scale(0.85,1)" x="0" y="0" font-size="18.8" font-weight="bold" textLength="62.71" lengthAdjust="spacing" >Serum</text>
<text transform="translate(47.7,175.10) rotate(-90) scale(0.85,1)" x="0" y="0" font-size="18.8" font-weight="bold" textLength="21.41" lengthAdjust="spacing" >Tf</text>
<text transform="translate(47.7,144.70) rotate(-90) scale(0.85,1)" x="0" y="0" font-size="18.8" font-weight="bold" textLength="72.82" lengthAdjust="spacing" >(mg/ml)</text>
<text transform="translate(514.4,258.80) rotate(-90) scale(0.85,1)" x="0" y="0" font-size="18.8" font-weight="bold" textLength="125.41" lengthAdjust="spacing" >Haemoglobin</text>
<text transform="translate(47.7,678.40) rotate(-90) scale(0.85,1)" x="0" y="0" font-size="18.8" font-weight="bold" textLength="48.94" lengthAdjust="spacing" >Liver</text>
<text transform="translate(47.7,610.90) rotate(-90) scale(0.85,1)" x="0" y="0" font-size="18.8" font-weight="bold" textLength="21.29" lengthAdjust="spacing" >Fe</text>
<text transform="translate(47.7,580.80) rotate(-90) scale(0.85,1)" x="0" y="0" font-size="18.8" font-weight="bold" textLength="69.29" lengthAdjust="spacing" >Uptake</text>
<text transform="translate(514.4,705.50) rotate(-90) scale(0.85,1)" x="0" y="0" font-size="18.8" font-weight="bold" textLength="119.65" lengthAdjust="spacing" >Erythrocyte</text>
<text transform="translate(514.4,579.40) rotate(-90) scale(0.85,1)" x="0" y="0" font-size="18.8" font-weight="bold" textLength="22.12" lengthAdjust="spacing" >Fe</text>
<text transform="translate(514.4,548.70) rotate(-90) scale(0.85,1)" x="0" y="0" font-size="18.8" font-weight="bold" textLength="68.35" lengthAdjust="spacing" >Uptake</text>
<text transform="translate(514.4,141.20) rotate(-90) scale(0.85,1)" x="0" y="0" font-size="18.8" font-weight="bold" textLength="28.59" lengthAdjust="spacing" >(g/</text>
<text transform="translate(514.4,104.20) rotate(-90) scale(1.0,1)" x="0" y="0" font-size="18.8" font-weight="bold" textLength="21.00" lengthAdjust="spacing" >00</text>
<path d="M503.66,110.30 L505.60,113.40 L503.57,113.40 L501.47,110.16 L501.47,107.72 L514.40,107.72 L514.40,110.30Z" fill="#000"/>
<text transform="translate(514.4,81.10) rotate(-90) scale(0.85,1)" x="0" y="0" font-size="18.8" font-weight="bold" textLength="26.71" lengthAdjust="spacingAndGlyphs" >ml)</text>
<text transform="translate(47.7,511.00) rotate(-90) scale(0.85,1)" x="0" y="0" font-size="18.8" font-weight="bold" textLength="26.00" lengthAdjust="spacingAndGlyphs" stroke="#000" stroke-width="0.5">(%)</text>
<text transform="translate(514.4,479.20) rotate(-90) scale(0.85,1)" x="0" y="0" font-size="18.8" font-weight="bold" textLength="25.65" lengthAdjust="spacingAndGlyphs" stroke="#000" stroke-width="0.5">(%)</text>
<text transform="translate(39.7,626.30) rotate(-90) scale(0.95,1)" x="0" y="0" font-size="12.5" font-weight="bold" textLength="14.32" lengthAdjust="spacing" stroke="#000" stroke-width="0.4">59</text>
<text transform="translate(506.4,594.20) rotate(-90) scale(0.95,1)" x="0" y="0" font-size="12.5" font-weight="bold" textLength="14.53" lengthAdjust="spacing" stroke="#000" stroke-width="0.4">59</text>
<path d="M476.02,14.14 L473.85,15.70 L473.85,14.53 L476.12,12.97 L477.26,12.97 L477.26,22.60 L476.02,22.60Z" fill="#000" stroke="#000" stroke-width="0.6" stroke-linejoin="round"/>
<path d="M476.02,107.24 L473.85,108.80 L473.85,107.63 L476.12,106.07 L477.26,106.07 L477.26,115.70 L476.02,115.70Z" fill="#000" stroke="#000" stroke-width="0.6" stroke-linejoin="round"/>
<path d="M55.54,438.24 L53.37,439.80 L53.37,438.63 L55.64,437.07 L56.78,437.07 L56.78,446.70 L55.54,446.70Z" fill="#000" stroke="#000" stroke-width="0.6" stroke-linejoin="round"/>
<path d="M476.02,648.24 L473.85,649.80 L473.85,648.63 L476.12,647.07 L477.26,647.07 L477.26,656.70 L476.02,656.70Z" fill="#000" stroke="#000" stroke-width="0.6" stroke-linejoin="round"/>
<path d="M153.35,318.15 L151.30,319.61 L151.30,318.51 L153.44,317.04 L154.51,317.04 L154.51,326.12 L153.35,326.12Z" fill="#000" stroke="#000" stroke-width="0.6499999999999999" stroke-linejoin="round"/>
<path d="M193.75,317.96 L191.70,319.42 L191.70,318.32 L193.84,316.85 L194.91,316.85 L194.91,325.93 L193.75,325.93Z" fill="#000" stroke="#000" stroke-width="0.6499999999999999" stroke-linejoin="round"/>
<path d="M242.12,317.77 L240.07,319.23 L240.07,318.13 L242.21,316.66 L243.28,316.66 L243.28,325.74 L242.12,325.74Z" fill="#000" stroke="#000" stroke-width="0.6499999999999999" stroke-linejoin="round"/>
<path d="M310.78,338.00 L308.73,339.46 L308.73,338.36 L310.87,336.89 L311.94,336.89 L311.94,345.97 L310.78,345.97Z" fill="#000" stroke="#000" stroke-width="0.6499999999999999" stroke-linejoin="round"/>
<path d="M153.35,740.79 L151.30,742.25 L151.30,741.15 L153.44,739.68 L154.51,739.68 L154.51,748.76 L153.35,748.76Z" fill="#000" stroke="#000" stroke-width="0.6499999999999999" stroke-linejoin="round"/>
<path d="M193.75,740.58 L191.70,742.04 L191.70,740.94 L193.84,739.47 L194.91,739.47 L194.91,748.55 L193.75,748.55Z" fill="#000" stroke="#000" stroke-width="0.6499999999999999" stroke-linejoin="round"/>
<path d="M242.12,740.37 L240.07,741.83 L240.07,740.73 L242.21,739.26 L243.28,739.26 L243.28,748.34 L242.12,748.34Z" fill="#000" stroke="#000" stroke-width="0.6499999999999999" stroke-linejoin="round"/>
<path d="M310.78,760.91 L308.73,762.37 L308.73,761.27 L310.87,759.80 L311.94,759.80 L311.94,768.88 L310.78,768.88Z" fill="#000" stroke="#000" stroke-width="0.6499999999999999" stroke-linejoin="round"/>
</svg></body></html>
